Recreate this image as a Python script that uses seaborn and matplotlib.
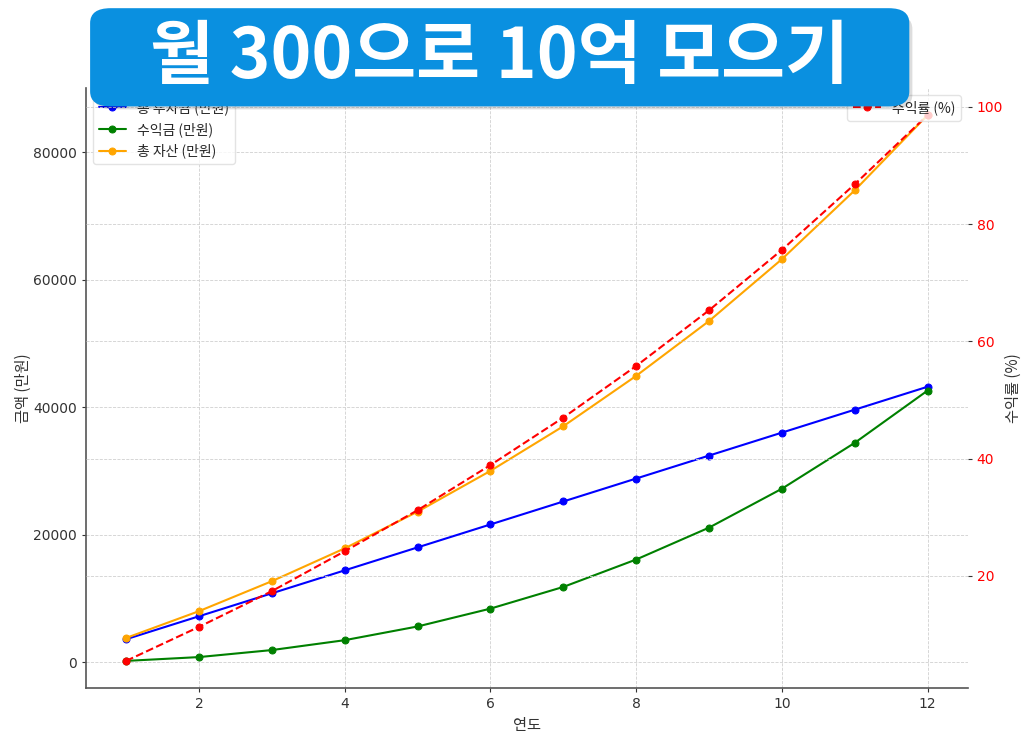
import matplotlib
matplotlib.use("Agg")
import matplotlib.pyplot as plt
import seaborn as sns
import numpy as np
import pandas as pd
from matplotlib.patches import FancyBboxPatch

years = [1, 2, 3, 4, 5, 6, 7, 8, 9, 10, 11, 12]
invested = [3600, 7200, 10800, 14400, 18000, 21600, 25200, 28800, 32400, 36000, 39600, 43200]
profit = [200, 800, 1900, 3450, 5600, 8400, 11800, 16100, 21100, 27200, 34400, 42600]
assets = [3800, 8000, 12700, 17850, 23600, 30000, 37000, 44900, 53500, 63200, 74000, 85800]
rate = [5.5, 11.3, 17.4, 24.2, 31.2, 38.9, 47.0, 55.8, 65.3, 75.6, 86.8, 98.6]

lbl_invest = "총 투자금 (만원)"
lbl_profit = "수익금 (만원)"
lbl_assets = "총 자산 (만원)"
lbl_rate = "수익률 (%)"
x_label = "연도"
y_label = "금액 (만원)"
title = "월 300으로 10억 모으기"

sns.set_style("whitegrid")
plt.rcParams['font.family'] = ['DejaVu Sans', 'Noto Sans CJK KR']
kfam = ['Noto Sans CJK KR', 'DejaVu Sans']

fig = plt.figure(figsize=(10.24, 7.44), dpi=100)
ax = fig.add_axes([0.084, 0.075, 0.861, 0.807])

grid_kw = dict(color='#d0d0d0', linestyle='--', linewidth=0.6)
for c, y, l in [('blue', invested, lbl_invest), ('green', profit, lbl_profit), ('orange', assets, lbl_assets)]:
    sns.lineplot(x=years, y=y, marker='o', color=c, label=l, ax=ax,
                 markersize=5, markeredgecolor=c, linewidth=1.5)

ax.grid(True, **grid_kw)
ax.set_xlabel(x_label, fontfamily=kfam, fontsize=11, color='#333333')
ax.set_ylabel(y_label, fontfamily=kfam, fontsize=11, color='#333333', labelpad=1)
ax.set_xticks([2, 4, 6, 8, 10, 12])
ax.tick_params(axis='both', labelsize=10, colors='#333333', length=3, left=True, bottom=True)
for s in ['top', 'right']:
    ax.spines[s].set_visible(False)
for s in ['left', 'bottom']:
    ax.spines[s].set_color('#555555')
    ax.spines[s].set_linewidth(1.2)

ax2 = ax.twinx()
sns.lineplot(x=years, y=rate, marker='o', color='red', linestyle='--', label=lbl_rate, ax=ax2,
             markersize=5, markeredgecolor='red', linewidth=1.5)
ax2.grid(True, **grid_kw)
ax2.set_ylabel(lbl_rate, fontfamily=kfam, fontsize=11, color='#333333', labelpad=1)
ax2.tick_params(axis='y', labelcolor='red', colors='#333333', labelsize=10, length=3, right=True)
ax2.set_yticks([20, 40, 60, 80, 100])
for s in ['top', 'right', 'left', 'bottom']:
    ax2.spines[s].set_visible(False)

leg1 = ax.legend(loc='upper left', prop={'family': kfam, 'size': 10}, frameon=True)
leg2 = ax2.legend(loc='upper right', prop={'family': kfam, 'size': 10}, frameon=True)
for lg in (leg1, leg2):
    lg.get_frame().set_edgecolor('#dddddd')
    lg.get_frame().set_facecolor('white')

# Title banner
shadow = FancyBboxPatch((0.091, 0.853), 0.80, 0.128, boxstyle="round,pad=0,rounding_size=0.02",
                        transform=fig.transFigure, facecolor='#00000022', edgecolor='none', zorder=9)
fig.patches.append(shadow)
banner = FancyBboxPatch((0.088, 0.857), 0.80, 0.132, boxstyle="round,pad=0,rounding_size=0.02",
                        transform=fig.transFigure, facecolor='#0a90e0', edgecolor='none', zorder=10)
fig.patches.append(banner)
fig.text(0.488, 0.923, title, ha='center', va='center', color='white', fontsize=50,
         fontweight='black', fontfamily=kfam, zorder=11)

fig.savefig('out.png', dpi=100)
